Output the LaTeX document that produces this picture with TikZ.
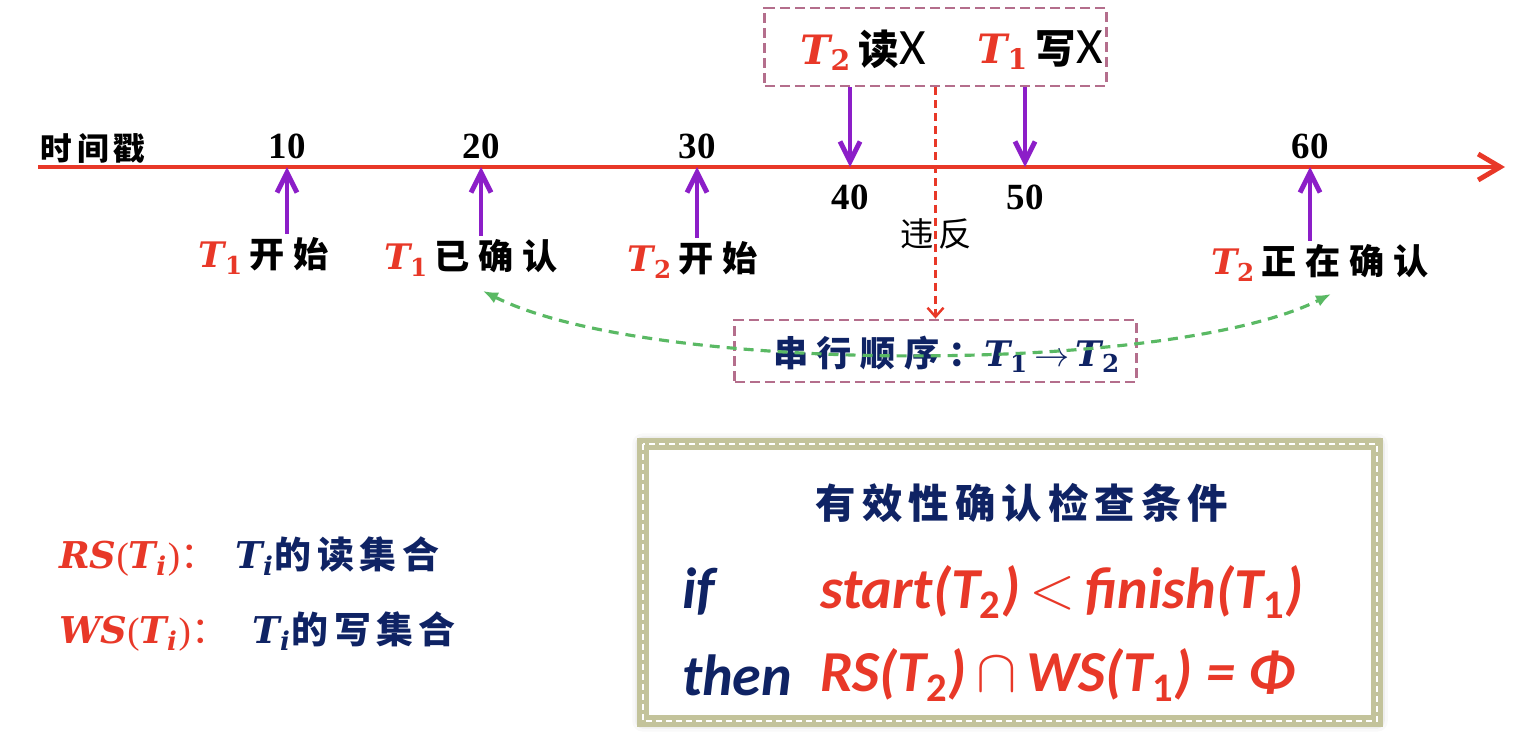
\documentclass[tikz,border=0pt]{standalone}
\usepackage{fontspec}
\setmainfont{Liberation Serif}
\newfontfamily\cjk[LetterSpace=25]{Noto Sans CJK SC}
\newfontfamily\cjkt[LetterSpace=15]{Noto Sans CJK SC}
\newfontfamily\calib[BoldItalicFont={Carlito Bold Italic},BoldFont={Carlito Bold}]{Carlito}
\newfontfamily\mathf{DejaVu Serif}
\usetikzlibrary{arrows.meta,shadows.blur}
\definecolor{tsred}{RGB}{232,56,40}
\definecolor{tspurple}{RGB}{140,30,200}
\definecolor{tsnavy}{RGB}{15,35,100}
\definecolor{tsmauve}{RGB}{180,110,140}
\definecolor{tsgreen}{RGB}{90,185,100}
\definecolor{tsolive}{RGB}{195,195,155}
\newcommand\Tn[1]{{\mathf\bfseries\itshape T}\textsubscript{\mathf\bfseries #1}}
\newcommand\Ti{{\mathf\bfseries\itshape T}\textsubscript{\mathf\bfseries\itshape i}}
\newcommand\Tc[1]{T\textsubscript{\upshape #1}}
\begin{document}
\begin{tikzpicture}[x=0.01cm,y=-0.01cm,
    axis/.style={draw=tsred,line width=1.4pt,-{Straight Barb[length=0.22cm,width=0.26cm]}},
    evtarr/.style={draw=tspurple,line width=1.4pt,-{Straight Barb[length=0.2cm,width=0.2cm]}},
    num/.style={font=\rmfamily\bfseries\fontsize{10.5}{12}\selectfont,inner sep=1pt},
    evt/.style={font=\cjk\bfseries\fontsize{10}{12}\selectfont,inner sep=1pt},
    opl/.style={font=\cjk\bfseries\fontsize{11.5}{14}\selectfont,inner sep=1pt},
    mbox/.style={draw=tsmauve,line width=0.8pt,dash pattern=on 0.1cm off 0.05cm,inner sep=0pt},
    viol/.style={draw=tsred,line width=0.7pt,dash pattern=on 0.08cm off 0.05cm,-{Straight Barb[length=0.09cm,width=0.16cm]}},
    serarr/.style={draw=tsgreen,line width=0.9pt,dash pattern=on 0.1cm off 0.07cm,{Latex[length=0.15cm,width=0.12cm]}-{Latex[length=0.15cm,width=0.12cm]}},
    condbox/.style={draw=tsolive,line width=3.4pt,outer sep=0pt,inner sep=0pt,fill=white,
        blur shadow={shadow xshift=0pt,shadow yshift=0pt,shadow blur radius=3pt,shadow opacity=35}},
    cform/.style={font=\calib\bfseries\itshape\fontsize{16.5}{18}\selectfont,inner sep=1pt,anchor=west}]
    \useasboundingbox (0,0) rectangle (1514,736);

    \foreach \v/\x in {10/287,20/481,30/697,40/850,50/1025,60/1310}
        \coordinate (p\v) at (\x,167); % Zeitpunkte
    \draw[axis] (38,167) -- (1505,167); % Zeitachse
    \node[font=\cjkt\bfseries\fontsize{9}{11}\selectfont] (tlabel) at (93,148) {时间戳};
    \foreach \v in {10,20,30,60}
        \node[num,above=1pt] (n\v) at (p\v) {\v};
    \foreach \v in {40,50}
        \node[num,below=4pt] (n\v) at (p\v) {\v};

    \node[evt] (e1) at (264,256) {\textcolor{tsred}{\Tn{1}}\,开始};
    \node[evt] (e2) at (471,258) {\textcolor{tsred}{\Tn{1}}\,已确认};
    \node[evt] (e3) at (693,260) {\textcolor{tsred}{\Tn{2}}\,开始};
    \node[evt] (e4) at (1320,263) {\textcolor{tsred}{\Tn{2}}\,正在确认};
    \draw[evtarr] (e1.north -| p10) -- (p10);
    \draw[evtarr] (e2.north -| p20) -- (p20);
    \draw[evtarr] (e3.north -| p30) -- (p30);
    \draw[evtarr] (e4.north -| p60) -- (p60); % Ereignisse unten

    \node[mbox,minimum width=3.41cm,minimum height=0.78cm] (opbox) at (935.5,47) {};
    \node[opl] (rdx) at (863,50) {\textcolor{tsred}{\Tn{2}}\,读{\calib\mdseries\fontsize{14.5}{16}\selectfont X}};
    \node[opl] (wrx) at (1040,50) {\textcolor{tsred}{\Tn{1}}\,写{\calib\mdseries\fontsize{14.5}{16}\selectfont X}};
    \draw[evtarr] (opbox.south -| p40) -- (p40);
    \draw[evtarr] (opbox.south -| p50) -- (p50); % Operationen oben

    \node[mbox,minimum width=4.01cm,minimum height=0.62cm] (serbox) at (935.5,351) {};
    \node[font=\cjk\bfseries\fontsize{10}{12}\selectfont,text=tsnavy,inner sep=1pt] (sertxt) at (947,354)
        {串行顺序：\Tn{1}\,$\rightarrow$\,\Tn{2}};
    \draw[viol] (opbox.south) -- (serbox.north);
    \node[font=\cjkt\fontsize{9.5}{11}\selectfont] (viotxt) at (936,234) {违反};
    \coordinate (g1) at (483,291);
    \coordinate (g2) at (1331,294);
    \draw[serarr] (g1) .. controls (650,375) and (1170,375) .. (g2); % Serialisierung

    \node[font=\fontsize{10.5}{13}\selectfont,inner sep=1pt,anchor=west] (rsdef) at (55,557)
        {\textcolor{tsred}{{\mathf\bfseries\itshape RS}(\Ti){\cjk ：}}\enspace\textcolor{tsnavy}{\Ti{\cjkt\bfseries 的读集合}}};
    \node[font=\fontsize{10.5}{13}\selectfont,inner sep=1pt,anchor=west] (wsdef) at (55,632)
        {\textcolor{tsred}{{\mathf\bfseries\itshape WS}(\Ti){\cjk ：}}\enspace\,\textcolor{tsnavy}{\Ti{\cjkt\bfseries 的写集合}}};

    \node[condbox,minimum width=7.34cm,minimum height=2.77cm] (cond) at (1010,582.5) {};
    \draw[white,line width=0.6pt,dash pattern=on 0.06cm off 0.04cm] (cond.north west) rectangle (cond.south east);
    \node[font=\cjkt\bfseries\fontsize{11.5}{13}\selectfont,text=tsnavy] (ctitle) at (1022,503) {有效性确认检查条件};
    \node[cform,text=tsnavy] (cif) at (678,592) {if};
    \node[cform,text=tsred] (cstart) at (816,592) {start(\Tc{2})\,$<$\,finish(\Tc{1})};
    \node[cform,text=tsnavy] (cthen) at (678,675) {then};
    \node[cform,text=tsred] (crs) at (816,675) {RS(\Tc{2})\,$\cap$\,WS(\Tc{1}) = Φ};
\end{tikzpicture}
\end{document}
